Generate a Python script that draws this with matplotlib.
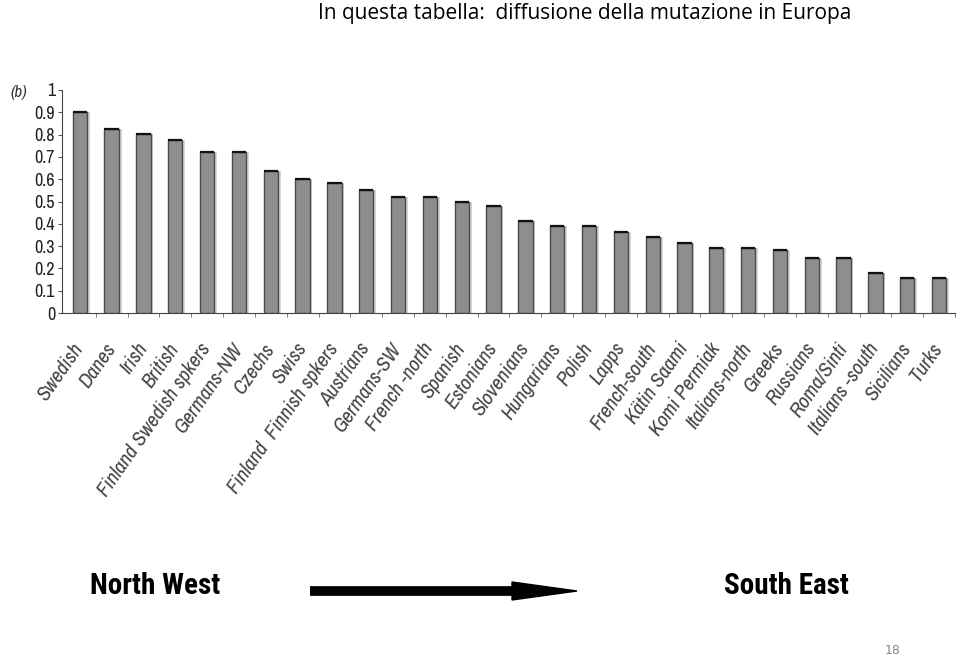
import numpy as np
import matplotlib.pyplot as plt
from matplotlib import font_manager

# ── data ──────────────────────────────────────────────────────────────────
populations = [
    "Swedish", "Danes", "Irish", "British", "Finland Swedish spkers",
    "Germans-NW", "Czechs", "Swiss", "Finland  Finnish spkers", "Austrians",
    "Germans-SW", "French -north", "Spanish", "Estonians", "Slovenians",
    "Hungarians", "Polish", "Lapps", "French-south", "Kätin Saami",
    "Komi Permiak", "Italians-north", "Greeks", "Russians", "Roma/Sinti",
    "Italians -south", "Sicilians", "Turks",
]
frequency = [
    0.90, 0.827, 0.801, 0.776, 0.72, 0.72, 0.637, 0.602, 0.585, 0.553,
    0.52, 0.52, 0.496, 0.478, 0.413, 0.39, 0.39, 0.363, 0.34, 0.315,
    0.29, 0.29, 0.283, 0.248, 0.248, 0.181, 0.156, 0.156,
]
yticks = [0, 0.1, 0.2, 0.3, 0.4, 0.5, 0.6, 0.7, 0.8, 0.9, 1]
ytick_labels = ["0", "0.1", "0.2", "0.3", "0.4", "0.5", "0.6", "0.7", "0.8", "0.9", "1"]

# pick narrow sans faces if around, else DejaVu Sans condensed
weights = {}
for f in font_manager.fontManager.ttflist:
    weights.setdefault(f.name, set()).add(f.weight if isinstance(f.weight, int) else 400)

NARROW_CANDS = ["Liberation Sans Narrow", "Arial Narrow", "Archivo Narrow",
                "PT Sans Narrow", "Roboto Condensed", "Encode Sans Condensed"]
BOLD_CANDS = ["Liberation Sans Narrow", "Arial Narrow", "Roboto Condensed",
              "Archivo Narrow", "PT Sans Narrow", "Fira Sans Condensed",
              "IBM Plex Sans Condensed", "Barlow Condensed", "Encode Sans Condensed",
              "Sofia Sans Condensed", "Saira Condensed"]

NF = dict(family="DejaVu Sans", stretch="condensed")
for cand in NARROW_CANDS:
    if cand in weights:
        NF = dict(family=cand)
        break
BF = dict(family="DejaVu Sans", stretch="condensed", weight="bold")
for cand in BOLD_CANDS:
    if cand in weights and max(weights[cand]) >= 700:
        BF = dict(family=cand, weight="bold")
        break

W, H = 960, 658
fig = plt.figure(figsize=(W / 100, H / 100), dpi=100)
fig.patch.set_facecolor("white")

# axes box in pixel coords
ax_l, ax_r, ax_t, ax_b = 62, 955, 90, 313
ax = fig.add_axes([ax_l / W, 1 - ax_b / H, (ax_r - ax_l) / W, (ax_b - ax_t) / H])

x = np.arange(len(populations))
ax.bar(x + 0.06, frequency, width=0.5, color="#d6d6d6", zorder=1)   # soft shadow
ax.bar(x, frequency, width=0.45, color="#8e8e8e", edgecolor="#4a4a4a",
       linewidth=1.0, zorder=2)
ax.hlines(frequency, x - 0.225, x + 0.225, color="#111111", linewidth=1.6, zorder=3)

ax.set_xlim(-0.56, 27.4)
ax.set_ylim(0, 1)
ax.set_yticks(yticks)
ax.set_yticklabels(ytick_labels, fontsize=13, color="#222222", **NF)
ax.set_xticks(x)
ax.set_xticklabels(populations, rotation=55, ha="right", va="center",
                   rotation_mode="anchor", fontsize=15, style="italic",
                   color="#444444", **NF)
ax.set_xticks(x + 0.5, minor=True)
ax.tick_params(axis="x", which="major", length=0, pad=23)
ax.tick_params(axis="x", which="minor", length=3, color="#666666", direction="out")
ax.tick_params(axis="y", length=3, color="#555555", pad=2)
for side in ("top", "right"):
    ax.spines[side].set_visible(False)
ax.spines["left"].set_color("#444444")
ax.spines["bottom"].set_color("#444444")

# ── annotations ───────────────────────────────────────────────────────────
fig.text(10 / W, 1 - 92 / H, "(b)", fontsize=12, style="italic",
         color="#333333", va="center", **NF)
fig.text(585 / W, 1 - 13 / H, "In questa tabella:  diffusione della mutazione in Europa",
         fontsize=15, family="Open Sans", ha="center", va="center")
fig.text(155 / W, 1 - 586 / H, "North West", fontsize=21,
         ha="center", va="center", **BF)
fig.text(786 / W, 1 - 586 / H, "South East", fontsize=21,
         ha="center", va="center", **BF)
fig.add_artist(plt.Line2D([310 / W, 515 / W], [1 - 591 / H, 1 - 591 / H],
                          color="black", linewidth=7, solid_capstyle="butt"))
fig.add_artist(plt.Polygon([[512 / W, 1 - 582 / H], [577 / W, 1 - 591 / H],
                            [512 / W, 1 - 600 / H]], closed=True, color="black"))
fig.text(893 / W, 1 - 651 / H, "18", fontsize=9, color="#888888",
         ha="center", va="center")

fig.savefig("out.png", dpi=100, facecolor="white")
